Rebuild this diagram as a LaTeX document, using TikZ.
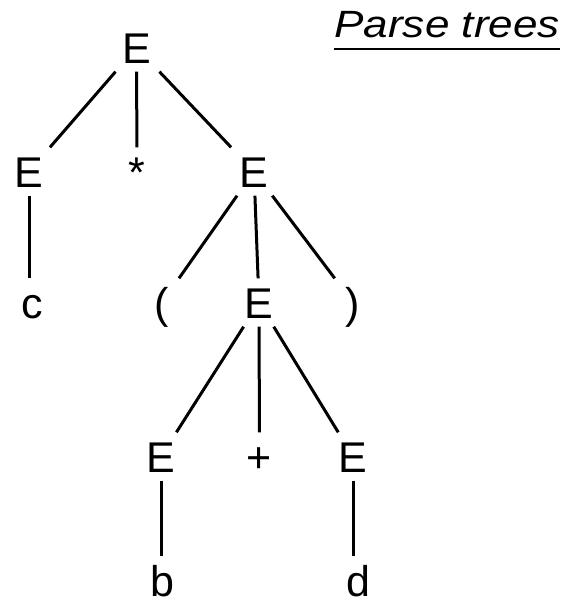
\documentclass[tikz,border=0pt]{standalone}
\usepackage{fontspec}
\setmainfont{Liberation Sans}
\begin{document}
\begin{tikzpicture}[x=1pt,y=-1pt,
  sym/.style={font=\fontsize{43}{48}\selectfont, text height=31pt, text depth=0pt,
    inner xsep=0pt, inner ysep=8.5pt, minimum width=50pt, anchor=center},
  leaf/.style={font=\fontsize{43}{48}\selectfont, text height=31pt, text depth=0pt,
    inner sep=0pt, anchor=base},
  edge/.style={line width=3pt},
  titletext/.style={font=\fontsize{38}{44}\selectfont\itshape, inner sep=0pt, anchor=base east}]
\useasboundingbox (0,0) rectangle (564,598);
% row 1
\node[sym] (r) at (136.5,47.5) {E};
% row 2
\node[sym] (e1) at (29,171.5) {E};
\node[sym] (star) at (137,171.5) {*};
\node[sym] (e2) at (254,171.5) {E};
% row 3
\node[sym] (c) at (32,302.5) {c};
\node[sym] (lp) at (162,302.5) {(};
\node[sym] (e3) at (259,302.5) {E};
\node[sym] (rp) at (353,302.5) {)};
% row 4
\node[sym] (e4) at (161,456.5) {E};
\node[sym] (plus) at (259.5,456.5) {+};
\node[sym] (e5) at (353,456.5) {E};
% row 5
\node[leaf] (b) at (162,596) {b};
\node[leaf] (d) at (358,596) {d};
% title
\node[titletext] (title) at (560,37.5) {\scalebox{1.16}[1]{Parse trees}};
\draw[line width=2.2pt] ([yshift=-11.5pt]title.base west) -- ([yshift=-11.5pt]title.base east);
% edges
\draw[edge] (r) -- (e1);
\draw[edge] (r) -- (star);
\draw[edge] (r) -- (e2);
\draw[edge] (e1) -- (e1 |- c.north);
\draw[edge] (e2) -- (lp);
\draw[edge] (e2) -- (e3);
\draw[edge] (e2) -- (rp);
\draw[edge] (e3) -- (e4);
\draw[edge] (e3) -- (plus);
\draw[edge] (e3) -- (e5);
\draw[edge] (e4) -- ([yshift=8.5pt]e4 |- b.north);
\draw[edge] (e5) -- ([yshift=8.5pt]e5 |- d.north);
\end{tikzpicture}
\end{document}
